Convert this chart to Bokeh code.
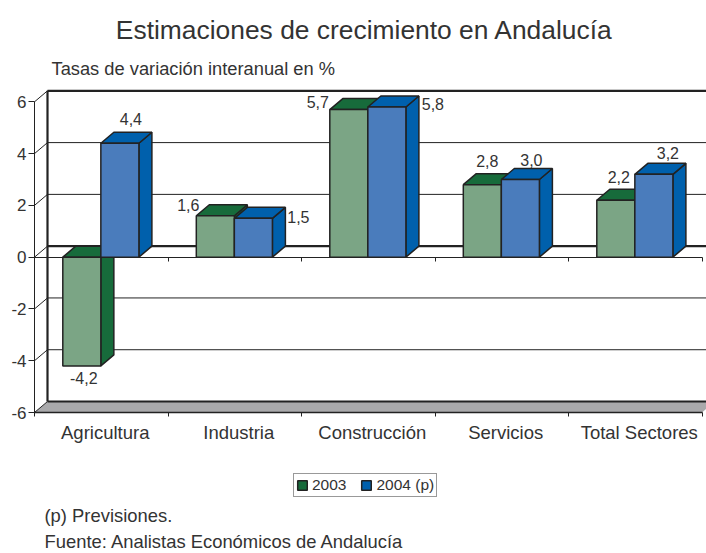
from bokeh.plotting import figure
from bokeh.models import Range1d, FixedTicker, Label, Legend, LegendItem, ColumnDataSource, LinearAxis
from bokeh.core.properties import value
from bokeh.embed import file_html
from bokeh.resources import INLINE

categories = ["Agricultura", "Industria", "Construcción", "Servicios", "Total Sectores"]
v2003 = [-4.2, 1.6, 5.7, 2.8, 2.2]
v2004 = [4.4, 1.5, 5.8, 3.0, 3.2]
label2003 = ["-4,2", "1,6", "5,7", "2,8", "2,2"]
label2004 = ["4,4", "1,5", "5,8", "3,0", "3,2"]
y_ticks = [-6, -4, -2, 0, 2, 4, 6]
title_text = "Estimaciones de crecimiento en Andalucía"
subtitle_text = "Tasas de variación interanual  en %"
note_text = "(p) Previsiones."
source_text = "Fuente: Analistas Económicos de Andalucía"

FONT = "Liberation Sans"
W, H = 706, 553
X0_PX, XU_PX = 34, 133.5      # page pixel of category 0, pixels per category
Y6_PX, YU_PX = 412, 25.89     # page pixel of y=-6, pixels per unit
DX, DY = 13 / XU_PX, 11 / YU_PX  # depth of the 3D box in data units
GAP, BW = 0.212, 0.285
INK = "#222222"
TXT = "#333333"
G_FRONT, G_DARK = "#7BA585", "#176B3B"
B_FRONT, B_DARK = "#4A7CBC", "#0060AC"

p = figure(width=W, height=H, output_backend="svg", toolbar_location=None,
           x_range=Range1d(-X0_PX / XU_PX, (W - X0_PX) / XU_PX),
           y_range=Range1d(-6 - (H - Y6_PX) / YU_PX, -6 + Y6_PX / YU_PX),
           x_axis_location=None, y_axis_location=None,
           min_border=0)
p.outline_line_color = None
p.grid.visible = False
p.background_fill_color = "white"

n = len(categories)
label_shift = 4 / XU_PX
centers = [i + 0.5 + label_shift for i in range(n)]
bounds = [i for i in range(n + 1)]

# y axis
yax = LinearAxis(fixed_location=0, ticker=FixedTicker(ticks=y_ticks),
                 major_label_overrides={v: str(v) for v in y_ticks}, bounds=(-6, 6),
                 major_tick_out=6, major_tick_in=0, minor_tick_line_color=None,
                 axis_line_color=INK, major_tick_line_color=INK, major_label_standoff=2,
                 major_label_text_font=FONT, major_label_text_font_size="17px",
                 major_label_text_color=TXT)
p.add_layout(yax, "left")

# x axis at the foot of the box
xax = LinearAxis(fixed_location=-6, ticker=FixedTicker(ticks=centers, minor_ticks=bounds),
                 major_label_overrides={c: l for c, l in zip(centers, categories)}, bounds=(0, n),
                 major_tick_line_color=None, major_tick_out=0, major_tick_in=0,
                 minor_tick_out=4, minor_tick_in=0, minor_tick_line_color=INK,
                 axis_line_color=INK, axis_line_width=1.5, major_label_standoff=5,
                 major_label_text_font=FONT, major_label_text_font_size="18.5px",
                 major_label_text_color=TXT)
p.add_layout(xax, "below")

# zero line, same ticks, no labels
zax = LinearAxis(fixed_location=0, ticker=FixedTicker(ticks=bounds), bounds=(0, n),
                 major_label_text_font_size="0px", major_tick_out=4, major_tick_in=0,
                 minor_tick_line_color=None, major_tick_line_color=INK, axis_line_color=INK)
zax.major_label_text_color = None
p.add_layout(zax, "below")

# floor
right = n + DX
p.patch([0, DX, right, n], [-6, -6 + DY, -6 + DY, -6], fill_color="#A9A9AB", line_color=None)

# back wall grid
grid_vals = [v for v in y_ticks if v not in (-6, 0, 6)]
p.multi_line([[DX, right] for _ in grid_vals], [[v + DY, v + DY] for v in grid_vals],
             line_color=INK, line_width=1)
# diagonals from axis to back wall
p.multi_line([[0, DX] for _ in y_ticks], [[v, v + DY] for v in y_ticks], line_color=INK, line_width=1)
# heavy lines of back wall
for v in (-6, 0, 6):
    p.line([DX, right], [v + DY, v + DY], line_color=INK, line_width=2.2)
p.line([DX, DX], [-6 + DY, 6 + DY], line_color=INK, line_width=2.2)


def box(x0, v):
    x1 = x0 + BW
    front = ([x0, x1, x1, x0], [0, 0, v, v])
    top_y = max(v, 0)
    top = ([x0, x1, x1 + DX, x0 + DX], [top_y, top_y, top_y + DY, top_y + DY])
    side = ([x1, x1 + DX, x1 + DX, x1], [min(v, 0), min(v, 0) + DY, top_y + DY, top_y])
    return front, top, side


legend_r = {}
for i in range(n):
    for j, (vals, cf, cd, key) in enumerate(((v2003, G_FRONT, G_DARK, "a"), (v2004, B_FRONT, B_DARK, "b"))):
        x0 = i + GAP + j * BW
        front, top, side = box(x0, vals[i])
        r = p.patch(*side, fill_color=cd, line_color=INK, line_width=1.5)
        p.patch(*top, fill_color=cd, line_color=INK, line_width=1.5)
        p.patch(*front, fill_color=cf, line_color=INK, line_width=1.5)
        legend_r[key] = r

# data labels: pixel offsets from top of each bar's centre
off2003 = [(2, 12), (-27, -11), (-31, -8), (5, -24), (3, -23)]
off2004 = [(11, -24), (45, -1), (46, -3), (11, -19), (14, -21)]
lx, ly, lt, ox, oy = [], [], [], [], []
for i in range(n):
    for j, (vals, labs, off) in enumerate(((v2003, label2003, off2003), (v2004, label2004, off2004))):
        lx.append(i + GAP + j * BW + BW / 2)
        ly.append(vals[i])
        lt.append(labs[i])
        ox.append(off[i][0])
        oy.append(off[i][1])
src = ColumnDataSource(dict(x=lx, y=ly, t=lt, ox=ox, oy=oy))
p.text("x", "y", text="t", x_offset="ox", y_offset="oy", source=src, text_align="center",
       text_baseline="middle", text_font=value(FONT), text_font_size="16px", text_color=TXT)

# legend
legend = Legend(items=[LegendItem(label="2003", renderers=[legend_r["a"]]),
                       LegendItem(label="2004 (p)", renderers=[legend_r["b"]])],
                orientation="horizontal", location=(293, H - 497),
                glyph_width=12, glyph_height=12, label_standoff=4, spacing=14,
                padding=2, margin=0, label_text_font=FONT, label_text_font_size="15.5px",
                label_text_color=TXT, label_height=12,
                border_line_color="#333333", border_line_width=1.5, background_fill_alpha=1)
p.add_layout(legend, "center")


def page_text(text, x, y, size, align="left"):
    p.add_layout(Label(x=x, y=H - y, x_units="screen", y_units="screen", text=text,
                       text_font=FONT, text_font_size=size, text_color=TXT,
                       text_align=align, text_baseline="middle"))


page_text(title_text, 364, 29, "26.4px", "center")
page_text(subtitle_text, 51, 68, "18.3px")
page_text(note_text, 44, 515, "18.4px")
page_text(source_text, 44, 541, "18.4px")

open("out.html", "w").write(file_html(p, INLINE))
